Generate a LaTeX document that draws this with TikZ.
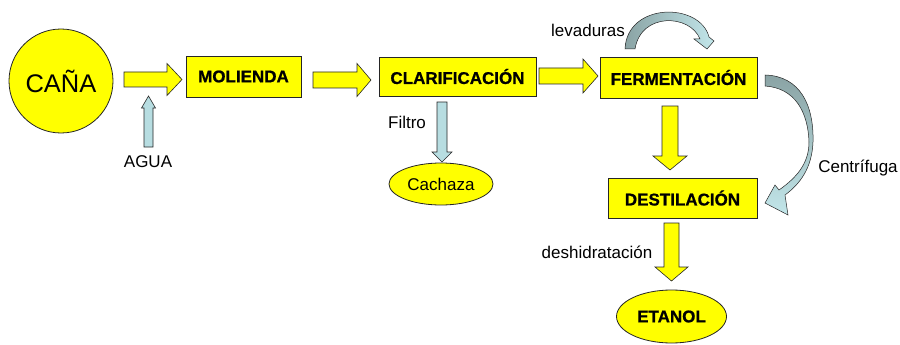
\documentclass[tikz,border=0pt]{standalone}
\usepackage{fontspec}
\setmainfont{Liberation Sans}
\newfontfamily\boxfont{Liberation Sans}[BoldFeatures={FakeBold=0.8}]
\usetikzlibrary{shapes.geometric}
\definecolor{yel}{HTML}{FFFF00}
\definecolor{lblue}{HTML}{B7DDE1}
\definecolor{dteal}{HTML}{8AA3A4}
\definecolor{lteal}{HTML}{C2E6EA}
\tikzset{
  stepbox/.style={draw=black!85, fill=yel, line width=0.8pt, inner sep=0pt, font=\boxfont\bfseries\fontsize{17}{19}\selectfont},
  yarrow/.style={draw=black!85, fill=yel, line width=0.6pt, line join=miter},
  barrow/.style={draw=black!85, fill=lblue, line width=0.6pt, line join=miter},
  carrow/.style={draw=black!85, line width=0.5pt},
  lbl/.style={font=\fontsize{17}{19}\selectfont, inner sep=0pt}
}
\begin{document}
\begin{tikzpicture}[x=1pt,y=-1pt]
\useasboundingbox[fill=white] (0,0) rectangle (900,345);

% nodes
\node[stepbox, circle, minimum size=104pt, font=\fontsize{25.5}{28}\selectfont] (cana) at (61,81) {CAÑA};
\node[stepbox, minimum width=115pt, minimum height=41pt] (mol) at (243.5,76.5) {MOLIENDA};
\node[stepbox, minimum width=157pt, minimum height=39pt] (cla) at (457.5,76.5) {CLARIFICACIÓN};
\node[stepbox, minimum width=157pt, minimum height=41pt] (fer) at (678.5,77.5) {FERMENTACIÓN};
\node[stepbox, minimum width=149pt, minimum height=40pt] (des) at (682.5,198) {DESTILACIÓN};
\node[stepbox, ellipse, minimum width=104pt, minimum height=42pt, font=\fontsize{17}{19}\selectfont] (cach) at (441,184) {Cachaza};
\node[stepbox, ellipse, minimum width=110pt, minimum height=53pt] (eta) at (671.5,316.5) {ETANOL};

% labels
\node[lbl] (agua) at (148,162) {AGUA};
\node[lbl] (filtro) at (407,122) {Filtro};
\node[lbl] (lev) at (588,30) {levaduras};
\node[lbl] (cent) at (858,168) {Centrífuga};
\node[lbl] (desh) at (597,252) {deshidratación};

% yellow block arrows (right)
\draw[yarrow] (124,72) -- (167,72) -- (167,63.5) -- (182,79.5) -- (167,95.5) -- (167,87) -- (124,87) -- cycle;
\draw[yarrow] (313,72) -- (357,72) -- (357,63.5) -- (371,80) -- (357,96.5) -- (357,88) -- (313,88) -- cycle;
\draw[yarrow] (539,68) -- (583,68) -- (583,59) -- (598,76) -- (583,93) -- (583,84) -- (539,84) -- cycle;
% yellow block arrows (down)
\draw[yarrow] (662,106) -- (678,106) -- (678,156) -- (687,156) -- (670,170) -- (653,156) -- (662,156) -- cycle;
\draw[yarrow] (664,223) -- (679,223) -- (679,267) -- (688,267) -- (671.5,281) -- (655,267) -- (664,267) -- cycle;
% light blue arrows
\draw[barrow] (144,147) -- (144,108) -- (141.5,108) -- (148.5,96) -- (155.5,108) -- (153,108) -- (153,147) -- cycle;
\draw[barrow] (437,102) -- (447,102) -- (447,152) -- (452,152) -- (442,162) -- (432,152) -- (437,152) -- cycle;

% levaduras curved arrow
\shade[left color=dteal, right color=lteal] (625,49) .. controls (627,2) and (700,2) .. (709,37)
  -- (714,41) -- (707,49) -- (694,39) -- (700,39)
  .. controls (690,14) and (641,12) .. (635,49) -- cycle;
\draw[carrow] (625,49) .. controls (627,2) and (700,2) .. (709,37)
  -- (714,41) -- (707,49) -- (694,39) -- (700,39)
  .. controls (690,14) and (641,12) .. (635,49) -- cycle;

% centrifuga curved arrow
\shade[top color=dteal, bottom color=lteal] (765,75) .. controls (800,76) and (814,105) .. (813,142)
  .. controls (812,168) and (800,184) .. (785,195) -- (788,215) -- (765,203) -- (775,185) -- (779,190)
  .. controls (796,178) and (809,164) .. (809,142) .. controls (808,112) and (795,88) .. (765,86) -- cycle;
\draw[carrow] (765,75) .. controls (800,76) and (814,105) .. (813,142)
  .. controls (812,168) and (800,184) .. (785,195) -- (788,215) -- (765,203) -- (775,185) -- (779,190)
  .. controls (796,178) and (809,164) .. (809,142) .. controls (808,112) and (795,88) .. (765,86) -- cycle;
\end{tikzpicture}
\end{document}
